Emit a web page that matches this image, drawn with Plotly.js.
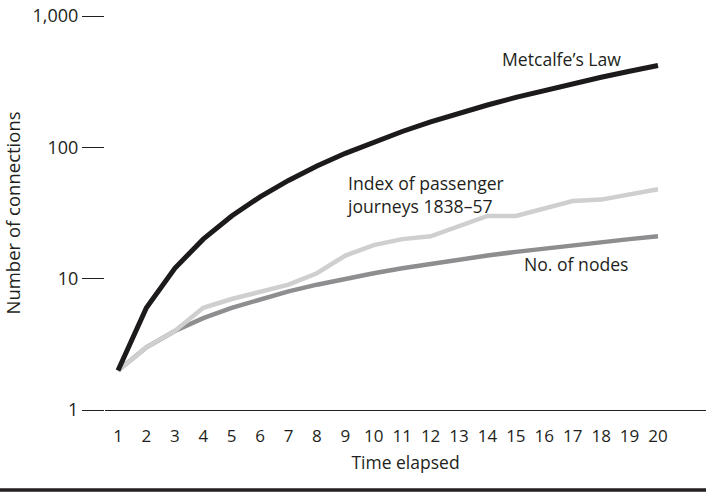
<!DOCTYPE html>
<html>
<head>
<meta charset="utf-8">
<script src="https://cdn.plot.ly/plotly-3.0.1.min.js"></script>
<style>
  html, body { margin: 0; padding: 0; background: #fff; }
  #chart { width: 706px; height: 497px; }
</style>
</head>
<body>
<div id="chart"></div>
<script>
// Time steps along the x axis
const timeElapsed = [1, 2, 3, 4, 5, 6, 7, 8, 9, 10, 11, 12, 13, 14, 15, 16, 17, 18, 19, 20];

// Network value under Metcalfe's Law
const metcalfe = [2, 6, 12, 20, 30, 42, 56, 72, 90, 110, 132, 156, 182, 210, 240, 272, 306, 342, 380, 420];

// Index of railway passenger journeys, 1838–57
const passengerJourneys = [2, 3, 4, 6, 7, 8, 9, 11, 15, 18, 20, 21, 25, 30, 30, 34, 39, 40, 44, 48];

// Number of nodes in the network
const nodes = [2, 3, 4, 5, 6, 7, 8, 9, 10, 11, 12, 13, 14, 15, 16, 17, 18, 19, 20, 21];

// Y tick values and their labels
const yTickVals = [1, 10, 100, 1000];
const yTickText = ['1', '10', '100', '1,000'];

const FONT = '"Open Sans", "DejaVu Sans", sans-serif';
const INK = '#231f20';

const traces = [
  {
    x: timeElapsed, y: nodes, type: 'scatter', mode: 'lines',
    line: { color: '#8e8e90', width: 4.5 }, hoverinfo: 'skip'
  },
  {
    x: timeElapsed, y: passengerJourneys, type: 'scatter', mode: 'lines',
    line: { color: '#cfcfcf', width: 4.5 }, hoverinfo: 'skip'
  },
  {
    x: timeElapsed, y: metcalfe, type: 'scatter', mode: 'lines',
    line: { color: '#1c1a1a', width: 5 }, hoverinfo: 'skip'
  }
];

const layout = {
  width: 706,
  height: 497,
  margin: { l: 105, r: 0, t: 16, b: 87 },
  paper_bgcolor: '#ffffff',
  plot_bgcolor: '#ffffff',
  showlegend: false,
  font: { family: FONT, size: 17, color: INK },
  xaxis: {
    range: [0.543, 21.69],
    tickvals: timeElapsed,
    ticktext: timeElapsed.map(String),
    showgrid: false,
    zeroline: false,
    showline: true,
    linecolor: INK,
    linewidth: 1,
    ticks: 'outside',
    ticklen: 11,
    tickcolor: 'rgba(0,0,0,0)',
    tickfont: { family: FONT, size: 17, color: INK },
    title: { text: 'Time elapsed', font: { family: FONT, size: 17.5, color: INK }, standoff: 10 },
    fixedrange: true
  },
  yaxis: {
    type: 'log',
    range: [0, 3],
    tickvals: yTickVals,
    ticktext: yTickText,
    showgrid: false,
    zeroline: false,
    showline: false,
    ticks: 'outside',
    ticklen: 22,
    tickwidth: 1,
    tickcolor: INK,
    tickfont: { family: FONT, size: 18, color: INK },
    title: { text: 'Number of connections', font: { family: FONT, size: 18.5, color: INK }, standoff: 10 },
    fixedrange: true
  },
  annotations: [
    {
      text: 'Metcalfe’s Law', xref: 'x', yref: 'y', x: 18.78, y: Math.log10(471),
      xanchor: 'right', yanchor: 'middle', showarrow: false,
      font: { family: FONT, size: 17.6, color: INK }
    },
    {
      text: 'Index of passenger<br>journeys 1838–57', xref: 'x', yref: 'y', x: 9.0, y: Math.log10(44),
      xanchor: 'left', yanchor: 'middle', align: 'left', showarrow: false,
      font: { family: FONT, size: 17.6, color: INK }
    },
    {
      text: 'No. of nodes', xref: 'x', yref: 'y', x: 15.2, y: Math.log10(12.9),
      xanchor: 'left', yanchor: 'middle', showarrow: false,
      font: { family: FONT, size: 17.6, color: INK }
    }
  ],
  shapes: [
    {
      type: 'line', xref: 'paper', yref: 'paper',
      x0: 0, x1: 1, y0: 0, y1: 0,
      line: { color: INK, width: 3.5 }
    }
  ]
};

// Bottom rule spans the full page width
const plotW = 706 - layout.margin.l - layout.margin.r;
const plotH = 497 - layout.margin.t - layout.margin.b;
layout.shapes[0].x0 = -layout.margin.l / plotW;
layout.shapes[0].x1 = 1 + layout.margin.r / plotW;
layout.shapes[0].y0 = layout.shapes[0].y1 = -(490 - (497 - layout.margin.b)) / plotH;

Plotly.newPlot('chart', traces, layout, { staticPlot: true, displayModeBar: false });
</script>
</body>
</html>
